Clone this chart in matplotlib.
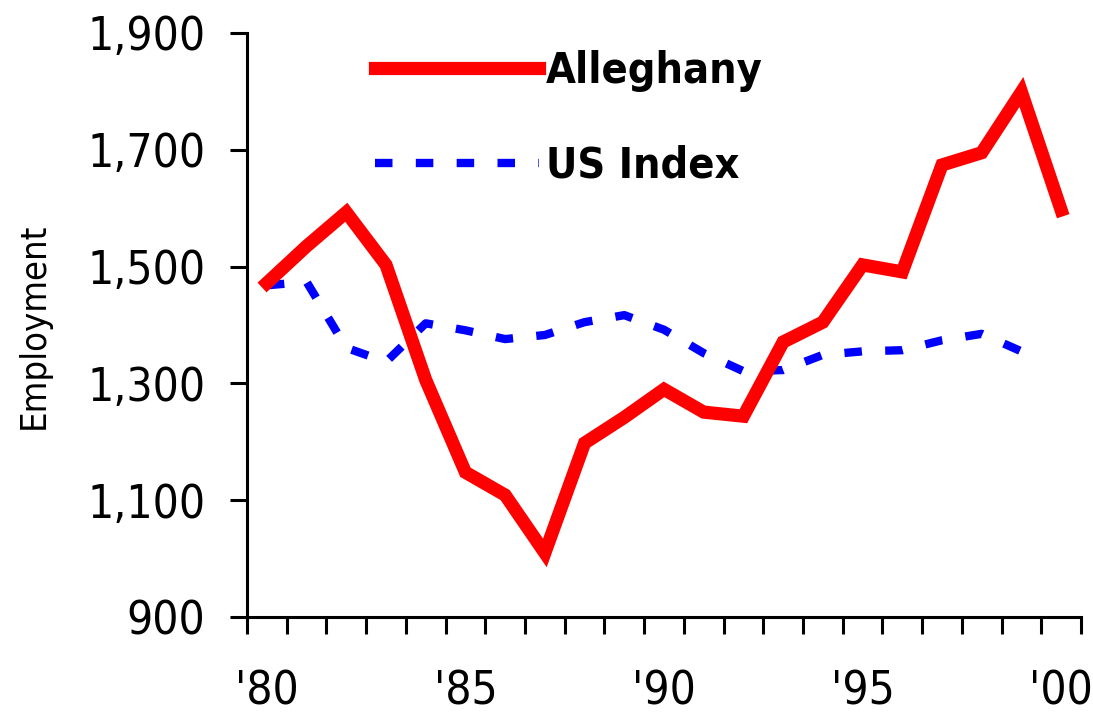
import numpy as np
import matplotlib
matplotlib.use('Agg')
import matplotlib.pyplot as plt
from matplotlib import font_manager

# pick a narrow sans if one is around
names = set(f.name for f in font_manager.fontManager.ttflist)
if 'Liberation Sans Narrow' in names:
    plt.rcParams['font.family'] = ['Liberation Sans Narrow', 'DejaVu Sans']
else:
    plt.rcParams['font.family'] = ['DejaVu Sans']
    plt.rcParams['font.stretch'] = 'condensed'

years = list(range(1980, 2001))
alleghany = [1472, 1535, 1593, 1503, 1306, 1148, 1109, 1010, 1198, 1242, 1290,
             1251, 1244, 1371, 1405, 1503, 1491, 1674, 1695, 1799, 1597]
# US index series stops at 1999
us_index = [1468, 1474, 1361, 1337, 1403, 1391, 1376, 1383, 1405, 1417, 1392,
            1352, 1321, 1323, 1349, 1355, 1357, 1374, 1385, 1355]
x_labels = ["'80", "'85", "'90", "'95", "'00"]
y_ticks = [900, 1100, 1300, 1500, 1700, 1900]

fig = plt.figure(figsize=(10.93, 7.16), dpi=100)
ax = fig.add_axes([0.226, 0.138, 0.763, 0.816])

xa = np.arange(len(years))
xu = np.arange(len(us_index))
ax.plot(xa, alleghany, color='#ff0000', lw=9.5, solid_joinstyle='miter',
        label='Alleghany', zorder=3)
ax.plot(xu, us_index, color='#0000ff', lw=6, linestyle=(0, (2.1, 2.8)),
        dash_capstyle='butt', label='US Index', zorder=2)

ax.set_xlim(-0.5, len(years) - 0.5)
ax.set_ylim(900, 1900)
ax.set_yticks(y_ticks)
ax.set_yticklabels(['{:,}'.format(v) for v in y_ticks])

ax.set_xticks(np.arange(-0.5, len(years), 1.0))
ax.set_xticklabels([])
ax.set_xticks(np.arange(0, len(years), 5), minor=True)
ax.set_xticklabels(x_labels, minor=True)

for s in ['top', 'right']:
    ax.spines[s].set_visible(False)
for s in ['left', 'bottom']:
    ax.spines[s].set_linewidth(2.2)

ax.tick_params(axis='both', which='major', direction='out', length=12, width=2.2,
               labelsize=33)
ax.tick_params(axis='y', pad=18)
ax.tick_params(axis='x', which='minor', length=0, labelsize=33, pad=38)

fig.text(0.031, 1 - 326 / 716, 'Employment', rotation=90, ha='center',
         va='center', fontsize=26)

leg = ax.legend(loc='upper left', bbox_to_anchor=(0.133, 1.0), frameon=False,
                handlelength=3.8, handletextpad=0.16, labelspacing=1.22,
                borderaxespad=0, prop={'size': 31, 'weight': 'bold'})

fig.savefig('out.png', dpi=100)
